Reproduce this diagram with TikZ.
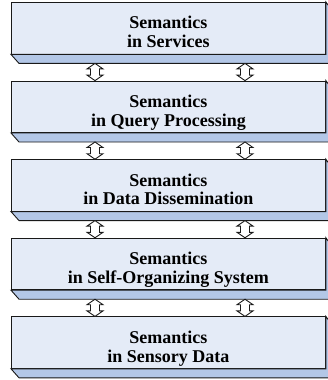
\documentclass[tikz,border=0pt]{standalone}
\usepackage{fontspec}
\setmainfont{Liberation Serif}
\usetikzlibrary{calc}
\definecolor{facefill}{HTML}{E4EBF7}
\definecolor{bevelfill}{HTML}{B3C7E7}
\newcommand\dblarr[2]{%
  \draw[dblarrow] let \p1=(#1), \p2=(#2) in
    (\x1,\y1) -- (\x1+8pt,\y1-5.5pt) -- (\x1+4.5pt,\y1-5.5pt) -- (\x1+4.5pt,\y2+5.5pt)
    -- (\x1+8pt,\y2+5.5pt) -- (\x1,\y2) -- (\x1-8pt,\y2+5.5pt) -- (\x1-4.5pt,\y2+5.5pt)
    -- (\x1-4.5pt,\y1-5.5pt) -- (\x1-8pt,\y1-5.5pt) -- cycle;}
\begin{document}
\begin{tikzpicture}[x=1pt,y=-1pt,
  face/.style={draw=black!90, line width=0.9pt, fill=facefill, minimum width=314pt,
    minimum height=51.5pt, inner sep=0pt, anchor=north west},
  lbl/.style={font=\bfseries\fontsize{18}{17.4}\selectfont, align=center, inner sep=0pt},
  bevel/.style={draw=black!90, line width=0.9pt, fill=bevelfill, line join=miter},
  dblarrow/.style={draw=black!90, line width=0.9pt, fill=white, line join=miter}]
\useasboundingbox (0,0) rectangle (328,380);
\clip (0,0) rectangle (328,380);
\foreach \i/\top/\ta/\tb in {1/2/Semantics/in Services,
                             2/80.6/Semantics/in Query Processing,
                             3/159.2/Semantics/in Data Dissemination,
                             4/237.8/Semantics/in Self-Organizing System,
                             5/316.4/Semantics/in Sensory Data}{
  \node[face] (b\i) at (11,\top) {};
  \draw[bevel] (b\i.south west) -- ++(8,9) -- ++(314,0) -- ++(0,-51.5)
     -- (b\i.north east) -- (b\i.south east) -- cycle;
  \node[lbl] (t\i) at ($(b\i.center)+(0,6.5)$) {\strut\ta\\\strut\tb};
}
\foreach \i/\j in {1/2,2/3,3/4,4/5}{
  \coordinate (l\i t) at ($(b\i.south west)+(84,9)$);
  \coordinate (l\i b) at ($(b\j.north west)+(84,0)$);
  \coordinate (r\i t) at ($(b\i.south west)+(234,9)$);
  \coordinate (r\i b) at ($(b\j.north west)+(234,0)$);
  \dblarr{l\i t}{l\i b}
  \dblarr{r\i t}{r\i b}
}
\end{tikzpicture}
\end{document}
